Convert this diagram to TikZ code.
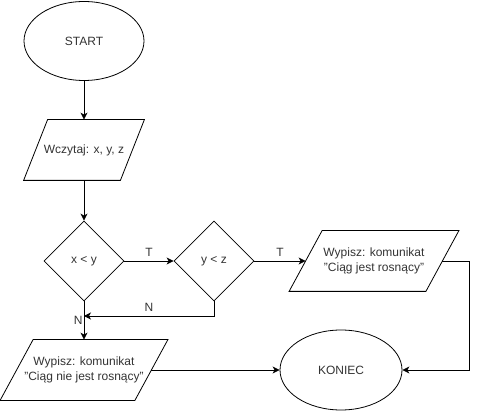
\documentclass[tikz,border=0pt]{standalone}
\usepackage{fontspec}
\setmainfont{Liberation Sans}
\usetikzlibrary{shapes.geometric,arrows.meta}
\definecolor{txt}{HTML}{333333}
\tikzset{
  base/.style={line width=0.8pt, text=txt, font=\fontsize{12pt}{15pt}\selectfont, inner sep=0pt, align=center},
  term/.style={base, draw=black, ellipse, minimum width=120pt, minimum height=79pt},
  io/.style={base, rectangle, minimum height=60pt},
  dec/.style={base, draw=black, diamond, minimum width=80pt, minimum height=80pt},
  shape line/.style={draw=black, line width=0.8pt},
  conn/.style={draw=black, line width=0.8pt, -{Stealth[length=7pt,width=7pt,inset=2pt]}},
  lab/.style={text=txt, font=\fontsize{12pt}{14pt}\selectfont, inner sep=1pt}
}
\begin{document}
\begin{tikzpicture}[x=1pt,y=-1pt]
\useasboundingbox (0,0) rectangle (479,411);
\node[term] (start) at (84,41) {START};
\node[io, minimum width=96pt] (read) at (84,150) {Wczytaj: x, y, z};
\draw[shape line] ([xshift=-12pt]read.south west) -- ([xshift=-12pt]read.south east)
  -- ([xshift=12pt]read.north east) -- ([xshift=12pt]read.north west) -- cycle;
\node[dec] (d1) at (84,261) {x < y};
\node[dec] (d2) at (214,261) {y < z};
\node[io, minimum width=136pt] (out1) at (374,261) {Wypisz: komunikat\\"Ciąg jest rosnący"};
\draw[shape line] ([xshift=-16.5pt]out1.south west) -- ([xshift=-16.5pt]out1.south east)
  -- ([xshift=16.5pt]out1.north east) -- ([xshift=16.5pt]out1.north west) -- cycle;
\node[io, minimum width=134pt] (out2) at (84,370) {Wypisz: komunikat\\"Ciąg nie jest rosnący"};
\draw[shape line] ([xshift=-16.5pt]out2.south west) -- ([xshift=-16.5pt]out2.south east)
  -- ([xshift=16.5pt]out2.north east) -- ([xshift=16.5pt]out2.north west) -- cycle;
\node[term, minimum width=122pt, minimum height=80pt] (end) at (341,370) {KONIEC};
\coordinate (j) at (84,316);
\coordinate (c) at (469,261);
\draw[conn] (start) -- (read.north);
\draw[conn] (read.south) -- (d1);
\draw[conn] (d1.east) -- node[lab, above=3pt] {T} (d2.west);
\draw[conn] (d2.east) -- node[lab, above=3pt] {T} (out1.west);
\draw[conn] (d2.south) |- node[lab, pos=0.75, above=3pt] {N} (j);
\draw[conn] (d1.south) -- node[lab, pos=0.5, left=0pt] {N} (out2.north);
\draw[conn] (out2.east) -- (end.west);
\draw[conn] (out1.east) -- (c) |- (end.east);
\end{tikzpicture}
\end{document}
